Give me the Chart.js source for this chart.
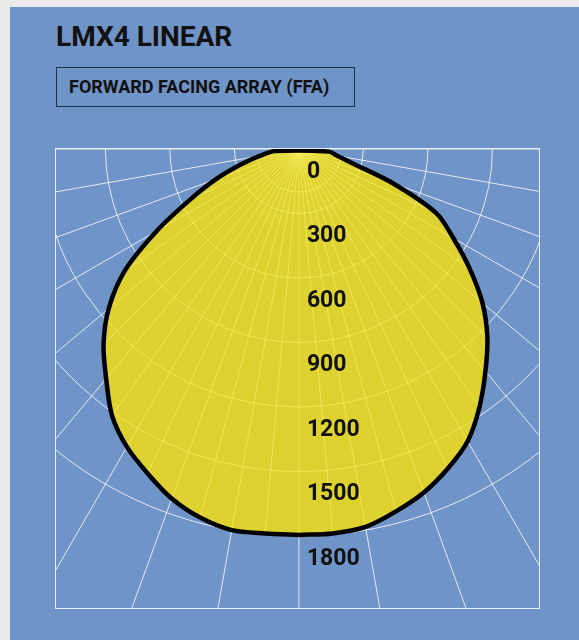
<!DOCTYPE html>
<html>
<head>
<meta charset="utf-8">
<script src="https://cdn.jsdelivr.net/npm/chart.js@4.4.1/dist/chart.umd.min.js"></script>
<style>
  html, body { margin: 0; padding: 0; }
  body { width: 579px; height: 640px; background: #e9e9e9; position: relative; overflow: hidden; font-family: Roboto, "DejaVu Sans", sans-serif; }
  #panel { position: absolute; left: 10px; top: 7px; width: 569px; height: 633px; background: #6f94c7; }
  #title { position: absolute; left: 56px; top: 23px; margin: 0; font-size: 28px; line-height: 28px; font-weight: 700; color: #111; }
  #subtitle { position: absolute; left: 56px; top: 67px; width: 297px; height: 38px; border: 1px solid #1f2f50; }
  #subtitle span { position: absolute; left: 12px; top: 10px; font-size: 18px; line-height: 18px; font-weight: 700; color: #111; white-space: nowrap; }
  #chart { position: absolute; left: 0; top: 0; }
</style>
</head>
<body>
<div id="panel"></div>
<h1 id="title">LMX4 LINEAR</h1>
<div id="subtitle"><span>FORWARD FACING ARRAY (FFA)</span></div>
<canvas id="chart" width="579" height="640"></canvas>
<script>
// angle from nadir (degrees, + to the right) and intensity
const angles = [-85, -80, -75, -70, -65, -60, -55, -50, -45, -40, -35, -30, -25, -20, -15, -10, -5,
                0, 5, 10, 15, 20, 25, 30, 35, 40, 45, 50, 55, 60, 65, 70, 75, 80, 85];
const intensity = [110, 185, 280, 410, 560, 765, 990, 1155, 1285, 1395, 1515, 1600, 1665, 1730, 1775, 1800, 1795,
                   1795, 1795, 1785, 1745, 1700, 1640, 1570, 1465, 1350, 1240, 1115, 970, 830, 705, 465, 260, 180, 140];

const tickValues = [0, 300, 600, 900, 1200, 1500, 1800];
const tickLabels = ['0', '300', '600', '900', '1200', '1500', '1800'];
const ringValues = [300, 600, 900, 1200, 1500, 1800];
const fineRingValues = [200, 300, 600, 900, 1200, 1500, 1800];
const coarseAngles = [-90, -80, -70, -60, -50, -40, -30, -20, -10, 0, 10, 20, 30, 40, 50, 60, 70, 80, 90];
const fineAngles = [-85, -80, -75, -70, -65, -60, -55, -50, -45, -40, -35, -30, -25, -20, -15, -10, -5,
                    0, 5, 10, 15, 20, 25, 30, 35, 40, 45, 50, 55, 60, 65, 70, 75, 80, 85];

const rad = d => d * Math.PI / 180;
const polar = angles.map((a, i) => ({ x: intensity[i] * Math.sin(rad(a)), y: intensity[i] * Math.cos(rad(a)) }));
// start the closed outline at nadir so the seam sits on the flat bottom
const start = angles.indexOf(0);
const points = polar.slice(start).concat(polar.slice(0, start + 1));

function drawGrid(chart, ringList, angleList, color) {
  const { ctx, scales: { x, y } } = chart;
  const cx = x.getPixelForValue(0), cy = y.getPixelForValue(0);
  ctx.strokeStyle = color;
  ctx.lineWidth = 1;
  ringList.forEach(v => {
    ctx.beginPath();
    ctx.arc(cx, cy, y.getPixelForValue(v) - cy, 0, Math.PI);
    ctx.stroke();
  });
  angleList.forEach(a => {
    ctx.beginPath();
    ctx.moveTo(cx, cy);
    ctx.lineTo(x.getPixelForValue(4000 * Math.sin(rad(a))), y.getPixelForValue(4000 * Math.cos(rad(a))));
    ctx.stroke();
  });
}

const polarGrid = {
  id: 'polarGrid',
  beforeDatasetsDraw(chart) {
    const { ctx, chartArea: a } = chart;
    ctx.save();
    ctx.beginPath();
    ctx.rect(a.left, a.top, a.width, a.height);
    ctx.clip();
    drawGrid(chart, ringValues, coarseAngles, 'rgba(255,255,255,0.8)');
    ctx.restore();
    ctx.save();
    ctx.strokeStyle = 'rgba(255,255,255,0.85)';
    ctx.lineWidth = 1;
    ctx.strokeRect(a.left - 0.5, a.top - 0.5, a.width + 1, a.height + 1);
    ctx.restore();
  },
  afterDatasetDraw(chart, args) {
    if (args.index !== 0) return;
    const { ctx } = chart;
    const pts = args.meta.data;
    ctx.save();
    ctx.beginPath();
    pts.forEach((p, i) => i ? ctx.lineTo(p.x, p.y) : ctx.moveTo(p.x, p.y));
    ctx.closePath();
    ctx.clip();
    drawGrid(chart, fineRingValues, fineAngles, 'rgba(255,244,110,0.6)');
    ctx.restore();
  },
  afterDatasetsDraw(chart) {
    const { ctx, scales: { x, y } } = chart;
    ctx.save();
    ctx.font = 'bold 23px Roboto, "DejaVu Sans", sans-serif';
    ctx.fillStyle = '#111';
    ctx.textAlign = 'left';
    ctx.textBaseline = 'middle';
    tickValues.forEach((v, i) => {
      ctx.fillText(tickLabels[i], x.getPixelForValue(0) + 8, y.getPixelForValue(v) + 23);
    });
    ctx.restore();
  }
};

new Chart(document.getElementById('chart'), {
  type: 'scatter',
  data: {
    datasets: [
      {
        data: points,
        showLine: true,
        fill: 'shape',
        backgroundColor: '#ddd22f',
        borderWidth: 0,
        borderColor: 'rgba(0,0,0,0)',
        pointRadius: 0,
        tension: 0.3,
        order: 2
      },
      {
        data: points,
        showLine: true,
        fill: false,
        borderColor: '#000',
        borderWidth: 4.5,
        pointRadius: 0,
        tension: 0.3,
        order: 1
      }
    ]
  },
  options: {
    responsive: false,
    animation: false,
    layout: { padding: { left: 56, top: 149, right: 40, bottom: 32 } },
    scales: {
      x: { type: 'linear', min: -1130, max: 1117, display: false },
      y: { type: 'linear', min: 0, max: 2135, reverse: true, display: false }
    },
    plugins: {
      legend: { display: false },
      tooltip: { enabled: false }
    }
  },
  plugins: [polarGrid]
});
</script>
</body>
</html>
